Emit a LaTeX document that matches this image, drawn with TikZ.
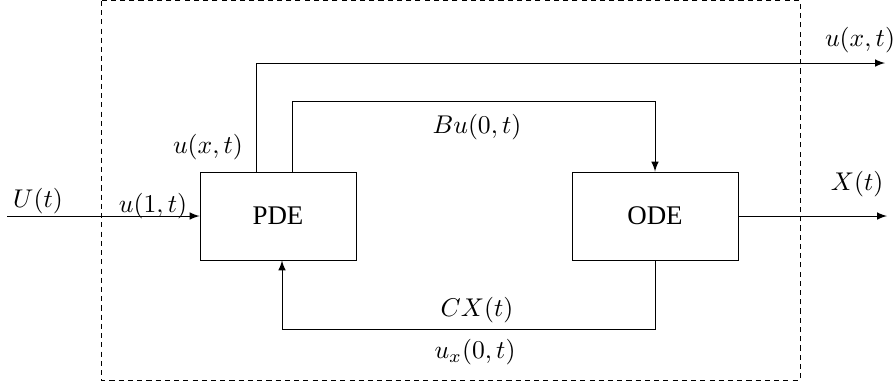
\documentclass[tikz,border=0pt]{standalone}
\usepackage{fontspec}
\newfontfamily\boxfont{Liberation Serif}
\usetikzlibrary{calc}
\begin{document}
\begin{tikzpicture}[x=0.39pt,y=-0.39pt,>=latex,line width=0.35pt,
  box/.style={draw, minimum width=60.8pt, minimum height=34.3pt, inner sep=0pt, font=\boxfont\fontsize{10.5}{12}\selectfont},
  lbl/.style={inner sep=0pt},
  frame/.style={draw, dash pattern=on 2pt off 1.6pt, line width=0.3pt}]
\useasboundingbox (0,0) rectangle (896,387);
\draw[frame] (101,0.8) rectangle (800,380);
\node[box] (pde) at (278,216) {PDE};
\node[box, minimum width=64.7pt] (ode) at (655,216) {ODE};
\coordinate (uin) at (7,216);
\coordinate (ta) at (256,63);
\coordinate (uout) at (885,63);
\coordinate (tb) at (292,101);
\coordinate (xout) at (887,213);
\coordinate (bb) at (282,329);
\draw[->] (uin) -- (pde.west);
\draw[->] (pde.north -| ta) -- (ta) -- (uout);
\draw[->] (pde.north -| tb) -- (tb) -| (ode.north);
\draw[->] (ode.east) -- (ode.east -| xout);
\draw[->] (ode.south) |- (bb) -- (pde.south -| bb);
\node[lbl] (lU) at (38,201) {$U(t)$};
\node[lbl] (lu1) at (153,206) {$u(1,t)$};
\node[lbl] (lux) at (208,147) {$u(x,t)$};
\node[lbl] (lBu) at (477,127) {$Bu(0,t)$};
\node[lbl] (luxr) at (860,40) {$u(x,t)$};
\node[lbl] (lX) at (857,184) {$X(t)$};
\node[lbl] (lCX) at (477,310) {$CX(t)$};
\node[lbl] (lux0) at (475,352) {$u_x(0,t)$};
\end{tikzpicture}
\end{document}
